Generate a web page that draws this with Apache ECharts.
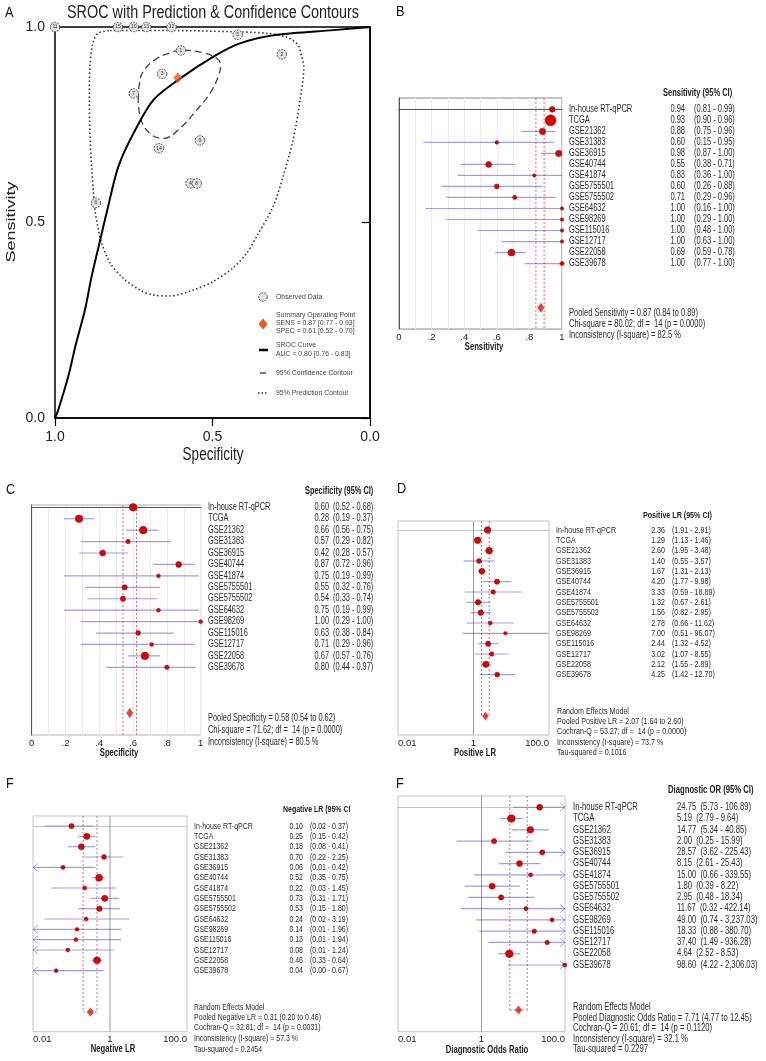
<!DOCTYPE html>
<html><head><meta charset="utf-8">
<script src="https://cdn.jsdelivr.net/npm/echarts@6/dist/echarts.min.js"></script>
<style>html,body{margin:0;padding:0;background:#fff}#c{width:766px;height:1061px}</style>
</head><body><div id="c"></div>
<script>
// ---------------- DATA ----------------
const studies = ['In-house RT-qPCR','TCGA','GSE21362','GSE31383','GSE36915','GSE40744','GSE41874','GSE5755501','GSE5755502','GSE64632','GSE98269','GSE115016','GSE12717','GSE22058','GSE39678'];

const sens   = [0.94,0.93,0.88,0.60,0.98,0.55,0.83,0.60,0.71,1.00,1.00,1.00,1.00,0.69,1.00];
const sensLo = [0.81,0.90,0.75,0.15,0.87,0.38,0.36,0.26,0.29,0.16,0.29,0.48,0.63,0.59,0.77];
const sensHi = [0.99,0.96,0.96,0.95,1.00,0.71,1.00,0.88,0.96,1.00,1.00,1.00,1.00,0.78,1.00];
const sensWt = [5.5,10.5,6,3.5,6,5.7,3.3,4.7,4,3.3,3.3,3.3,3.3,6.7,4];

const spec   = [0.60,0.28,0.66,0.57,0.42,0.87,0.75,0.55,0.54,0.75,1.00,0.63,0.71,0.67,0.80];
const specLo = [0.52,0.19,0.56,0.29,0.28,0.72,0.19,0.32,0.33,0.19,0.29,0.38,0.29,0.57,0.44];
const specHi = [0.68,0.37,0.75,0.82,0.57,0.96,0.99,0.76,0.74,0.99,1.00,0.84,0.96,0.76,0.97];
const specWt = [7.3,7.3,7.3,4.3,5.7,5.7,3.7,5,5,3.7,3.7,4.7,3.7,7.3,4.3];

const plr    = [2.36,1.29,2.60,1.40,1.67,4.20,3.33,1.32,1.56,2.78,7.00,2.44,3.02,2.12,4.25];
const plrLo  = [1.91,1.13,1.95,0.55,1.31,1.77,0.59,0.67,0.82,0.66,0.51,1.32,1.07,1.55,1.42];
const plrHi  = [2.91,1.46,3.48,3.57,2.13,9.98,18.89,2.61,2.95,11.62,96.07,4.52,8.55,2.89,12.70];
const plrWt  = [6.3,6.3,6.3,4.7,5.7,5,4.3,5.3,5.3,4,3.3,5,4.3,6,4.7];

const nlr    = [0.10,0.25,0.18,0.70,0.06,0.52,0.22,0.73,0.53,0.24,0.14,0.13,0.08,0.46,0.04];
const nlrLo  = [0.02,0.15,0.08,0.22,0.01,0.35,0.03,0.31,0.15,0.02,0.01,0.01,0.01,0.33,0.00];
const nlrHi  = [0.37,0.42,0.41,2.25,0.42,0.75,1.45,1.71,1.80,3.19,1.96,1.94,1.24,0.64,0.67];
const nlrWt  = [5,6,5.7,4.7,4,6.7,4,6,5.3,3.7,3.7,3.7,3.7,6.7,3.7];

const dor    = [24.75,5.19,14.77,2.00,28.57,8.15,15.00,1.80,2.95,11.67,49.00,18.33,37.40,4.64,98.60];
const dorLo  = [5.73,2.79,5.34,0.25,3.62,2.61,0.66,0.39,0.48,0.32,0.74,0.88,1.49,2.52,4.22];
const dorHi  = [106.89,9.64,40.85,15.99,225.43,25.43,339.55,8.22,18.34,422.14,3237.03,380.70,936.28,8.53,2306.03];
const dorWt  = [5.7,7.3,6.3,5,5,5.7,4,5.7,5,4,4,4.3,4.3,7.3,4];

// pooled [estimate, lower, upper]
const pooledSens = [0.87,0.84,0.89];
const pooledSpec = [0.58,0.54,0.62];
const pooledPlr  = [2.07,1.64,2.60];
const pooledNlr  = [0.31,0.20,0.46];
const pooledDor  = [7.71,4.77,12.45];
// heterogeneity [statistic, df, p, I2, tau2]
const hetSens = [80.02,14,'0.0000',82.5,null];
const hetSpec = [71.62,14,'0.0000',80.5,null];
const hetPlr  = [53.27,14,'0.0000',73.7,'0.1016'];
const hetNlr  = [32.81,14,'0.0031',57.3,'0.2454'];
const hetDor  = [20.61,14,'0.1120',32.1,'0.2297'];

// SROC panel
const summarySens = [0.87,0.77,0.93];
const summarySpec = [0.61,0.52,0.70];
const aucValues   = [0.80,0.76,0.83];
const srocSpec = [1.00,0.99,0.958,0.933,0.905,0.884,0.859,0.834,0.799,0.751,0.688,0.61,0.497,0.413,0.296,0.116,0.00];
const srocSens = [0.00,0.02,0.106,0.191,0.276,0.361,0.447,0.532,0.643,0.728,0.813,0.864,0.924,0.958,0.98,0.992,1.00];
const confSpec = [0.736,0.732,0.720,0.683,0.635,0.598,0.529,0.487,0.474,0.482,0.508,0.550,0.603,0.656,0.693,0.725,0.736];
const confSens = [0.813,0.856,0.886,0.916,0.934,0.941,0.934,0.920,0.903,0.873,0.830,0.788,0.741,0.715,0.724,0.758,0.813];
const predSpec = [0.825,0.645,0.435,0.328,0.264,0.229,0.217,0.210,0.222,0.244,0.276,0.308,0.360,0.391,0.435,0.498,0.562,0.635,0.689,0.730,0.784,0.825,0.852,0.864,0.873,0.884,0.889,0.891,0.889,0.880,0.864,0.825];
const predSens = [0.991,0.991,0.988,0.984,0.974,0.954,0.924,0.898,0.813,0.711,0.617,0.540,0.464,0.422,0.384,0.349,0.327,0.312,0.315,0.327,0.358,0.396,0.448,0.489,0.532,0.643,0.729,0.813,0.899,0.958,0.984,0.991];

const tickA    = ['0.0','0.5','1.0'];
const tickProp = ['0','.2','.4','.6','.8','1'];
const tickLog  = {'-2':'0.01','0':'1','2':'100.0'};

// ---------------- STYLE / LAYOUT ----------------
const FONT = '"Liberation Sans", Arial, sans-serif';
const RED = '#cc0a0a', CI = 'rgba(80,80,215,0.55)', REF = '#e06060';
const fmt = v => v.toLocaleString('en-US',{minimumFractionDigits:2,maximumFractionDigits:2});

const forest = [
 {gi:1, grid:{left:399,top:98,width:163,height:231}, log:false, yr:[-1.03,19.94],
  est:sens, lo:sensLo, hi:sensHi, wt:sensWt, pooled:pooledSens, full:true, nullLine:false,
  gridBorder:'#8a8a8a', xLine:'#555', yLine:'#555', yPos:'left', split:true,
  fs:10, sx:0.75, labelX:569, valX:685, ciX:694, header:'Sensitivity (95% CI)', headerX:663, headerY:93,
  stats:['Pooled Sensitivity = '+pooledSens[0].toFixed(2)+' ('+pooledSens[1].toFixed(2)+' to '+pooledSens[2].toFixed(2)+')',
         'Chi-square = '+hetSens[0]+'; df =  '+hetSens[1]+' (p = '+hetSens[2]+')',
         'Inconsistency (I-square) = '+hetSens[3]+' %'],
  statsX:569, statsY:[313,324,335], name:'Sensitivity', nameX:484, nameY:347, dia:[7,10]},
 {gi:2, grid:{left:31.7,top:505,width:169,height:230}, log:false, yr:[-0.2,19.92],
  est:spec, lo:specLo, hi:specHi, wt:specWt, pooled:pooledSpec, full:true, nullLine:false,
  gridBorder:'#b0b0b0', xLine:'#555', yLine:'#555', yPos:'right', split:true,
  fs:10, sx:0.74, labelX:208, valX:329, ciX:333, header:'Specificity (95% CI)', headerX:305, headerY:491,
  stats:['Pooled Specificity = '+pooledSpec[0].toFixed(2)+' ('+pooledSpec[1].toFixed(2)+' to '+pooledSpec[2].toFixed(2)+')',
         'Chi-square = '+hetSpec[0]+'; df =  '+hetSpec[1]+' (p = '+hetSpec[2]+')',
         'Inconsistency (I-square) = '+hetSpec[3]+' %'],
  statsX:208, statsY:[718,730,742], name:'Specificity', nameX:119, nameY:753, dia:[7,10]},
 {gi:3, grid:{left:398,top:521,width:151,height:214}, log:true, yr:[-0.87,19.84],
  est:plr, lo:plrLo, hi:plrHi, wt:plrWt, pooled:pooledPlr, full:false, nullLine:true,
  gridBorder:'#c4c4c4', xLine:'#c4c4c4', yLine:null, yPos:'left', split:false,
  fs:9.5, sx:0.75, labelX:556, valX:665, ciX:672, header:'Positive LR (95% CI)', headerX:643, headerY:515,
  stats:['Random Effects Model',
         'Pooled Positive LR = '+fmt(pooledPlr[0])+' ('+fmt(pooledPlr[1])+' to '+fmt(pooledPlr[2])+')',
         'Cochran-Q = '+hetPlr[0]+'; df =  '+hetPlr[1]+' (p = '+hetPlr[2]+')',
         'Inconsistency (I-square) = '+hetPlr[3]+' %', 'Tau-squared = '+hetPlr[4]],
  statsX:557, statsY:[711,721,731,742,752], name:'Positive LR', nameX:475, nameY:753, dia:[6,9]},
 {gi:4, grid:{left:33,top:816,width:154,height:215.7}, log:true, yr:[-0.97,19.91],
  est:nlr, lo:nlrLo, hi:nlrHi, wt:nlrWt, pooled:pooledNlr, full:false, nullLine:true,
  gridBorder:'#c4c4c4', xLine:'#c4c4c4', yLine:null, yPos:'left', split:false,
  fs:9.3, sx:0.75, labelX:194, valX:303, ciX:310, header:'Negative LR (95% CI', headerX:283, headerY:809,
  stats:['Random Effects Model',
         'Pooled Negative LR = '+fmt(pooledNlr[0])+' ('+fmt(pooledNlr[1])+' to '+fmt(pooledNlr[2])+')',
         'Cochran-Q = '+hetNlr[0]+'; df =  '+hetNlr[1]+' (p = '+hetNlr[2]+')',
         'Inconsistency (I-square) = '+hetNlr[3]+' %', 'Tau-squared = '+hetNlr[4]],
  statsX:194, statsY:[1007,1017,1027,1038,1049], name:'Negative LR', nameX:113, nameY:1049, dia:[7,9]},
 {gi:5, grid:{left:398,top:796,width:167,height:235.7}, log:true, yr:[-1.0,19.92],
  est:dor, lo:dorLo, hi:dorHi, wt:dorWt, pooled:pooledDor, full:false, nullLine:true,
  gridBorder:'#c4c4c4', xLine:'#c4c4c4', yLine:null, yPos:'left', split:false, combined:true,
  fs:10, sx:0.77, labelX:573, valX:677, ciX:null, header:'Diagnostic OR (95% CI)', headerX:668, headerY:790,
  stats:['Random Effects Model',
         'Pooled Diagnostic Odds Ratio = '+fmt(pooledDor[0])+' ('+fmt(pooledDor[1])+' to '+fmt(pooledDor[2])+')',
         'Cochran-Q = '+hetDor[0]+'; df =  '+hetDor[1]+' (p = '+hetDor[2]+')',
         'Inconsistency (I-square) = '+hetDor[3]+' %', 'Tau-squared = '+hetDor[4]],
  statsX:573, statsY:[1007,1018,1028,1039,1049], name:'Diagnostic Odds Ratio', nameX:487, nameY:1050, dia:[7,9]}
];

// ---------------- BUILD OPTION ----------------
const grids = [{left:55, top:27, width:315, height:391, show:true, borderColor:'#000', borderWidth:1.5, backgroundColor:'transparent'}];
const xAxes = [{gridIndex:0, type:'value', min:0, max:1, interval:0.5, inverse:true,
  axisLine:{show:true, lineStyle:{color:'#000', width:1.5}},
  axisTick:{show:true, length:8, lineStyle:{color:'#000', width:1.2}},
  axisLabel:{fontSize:14, color:'#222', fontFamily:FONT, margin:12, formatter:v=>tickA[Math.round(v/0.5)]},
  splitLine:{show:false}}];
const yAxes = [{gridIndex:0, type:'value', min:0, max:1, interval:0.5,
  axisLine:{show:true, lineStyle:{color:'#000', width:1.5}},
  axisTick:{show:true, length:8, lineStyle:{color:'#000', width:1.2}},
  axisLabel:{fontSize:14, color:'#222', fontFamily:FONT, margin:10, formatter:v=>tickA[Math.round(v/0.5)]},
  splitLine:{show:false}}];

const series = [];
// SROC panel series
series.push({type:'line', xAxisIndex:0, yAxisIndex:0, data:predSpec.map((v,i)=>[v,predSens[i]]), smooth:0.3, symbol:'none',
  lineStyle:{color:'#333', width:1.6, type:[1.5,2.5]}, z:2, silent:true});
series.push({type:'line', xAxisIndex:0, yAxisIndex:0, data:confSpec.map((v,i)=>[v,confSens[i]]), smooth:0.4, symbol:'none',
  lineStyle:{color:'#444', width:1.3, type:[7,4]}, z:2, silent:true});
series.push({type:'line', xAxisIndex:0, yAxisIndex:0, data:srocSpec.map((v,i)=>[v,srocSens[i]]), smooth:0.3, symbol:'none',
  lineStyle:{color:'#000', width:2}, z:3, silent:true});
series.push({type:'scatter', xAxisIndex:0, yAxisIndex:0, data:spec.map((v,i)=>[v,sens[i],i+1]), symbolSize:9.5,
  itemStyle:{color:'#e2e2e2', borderColor:'#444', borderWidth:0.9, borderType:[2,1], opacity:1},
  label:{show:true, position:'inside', formatter:p=>String(p.value[2]), fontSize:5, color:'#333', fontFamily:FONT}, z:4, silent:true});
series.push({type:'scatter', xAxisIndex:0, yAxisIndex:0, data:[[summarySpec[0], summarySens[0]]], symbol:'diamond', symbolSize:[9,11],
  itemStyle:{color:'#ee5522'}, z:5, silent:true});

function ciRender(xMin, xMax){
  return function(params, api){
    const lo = api.value(0), hi = api.value(1), row = api.value(2);
    const p1 = api.coord([Math.max(lo, xMin), row]);
    const p2 = api.coord([Math.min(hi, xMax), row]);
    const ch = [{type:'line', shape:{x1:p1[0], y1:p1[1], x2:p2[0], y2:p2[1]}, style:{stroke:CI, lineWidth:1.2}}];
    if (lo <= xMin) ch.push({type:'polyline', shape:{points:[[p1[0]+5,p1[1]-4],[p1[0],p1[1]],[p1[0]+5,p1[1]+4]]}, style:{stroke:'rgba(110,110,220,0.6)', fill:null, lineWidth:1}});
    if (hi > xMax) ch.push({type:'polyline', shape:{points:[[p2[0]-5,p2[1]-4],[p2[0],p2[1]],[p2[0]-5,p2[1]+4]]}, style:{stroke:'rgba(110,110,220,0.6)', fill:null, lineWidth:1}});
    return {type:'group', children:ch};
  };
}
function refRender(full, nullLine){
  return function(params, api){
    const cs = params.coordSys;
    const lo = api.value(0), hi = api.value(1), row = api.value(2);
    const a = api.coord([lo, row]), b = api.coord([hi, row]);
    const yBot = full ? cs.y + cs.height : a[1];
    const ch = [];
    if (nullLine){
      const c = api.coord([1, row]);
      ch.push({type:'line', shape:{x1:c[0], y1:cs.y, x2:c[0], y2:cs.y+cs.height}, style:{stroke:'#9a9a9a', lineWidth:1}});
    }
    ch.push({type:'line', shape:{x1:a[0], y1:cs.y, x2:a[0], y2:yBot}, style:{stroke:REF, lineWidth:0.9, lineDash:[2,2]}});
    ch.push({type:'line', shape:{x1:b[0], y1:cs.y, x2:b[0], y2:yBot}, style:{stroke:REF, lineWidth:0.9, lineDash:[2,2]}});
    if (!full) ch.push({type:'line', shape:{x1:a[0], y1:a[1], x2:b[0], y2:b[1]}, style:{stroke:REF, lineWidth:0.9, lineDash:[2,2]}});
    return {type:'group', children:ch};
  };
}

forest.forEach(p => {
  const g = p.gi;
  grids.push(Object.assign({show:true, borderColor:p.gridBorder, borderWidth:1, backgroundColor:'transparent'}, p.grid));
  const xMin = p.log ? 0.01 : 0, xMax = p.log ? 100 : 1;
  if (p.log){
    xAxes.push({gridIndex:g, type:'log', logBase:10, min:0.01, max:100,
      axisLine:{show:true, lineStyle:{color:p.xLine, width:1}}, axisTick:{show:false}, splitLine:{show:false},
      axisLabel:{fontSize:9.5, color:'#222', fontFamily:FONT, margin:3, alignMinLabel:'left', alignMaxLabel:'right',
        formatter:v=>{const e=Math.round(Math.log10(v)); return tickLog[String(e)]||'';}}});
  } else {
    xAxes.push({gridIndex:g, type:'value', min:0, max:1, interval:0.1,
      axisLine:{show:true, lineStyle:{color:p.xLine, width:1}}, axisTick:{show:false},
      splitLine:{show:p.split, lineStyle:{color:'#f1e8e8', width:1}},
      axisLabel:{fontSize:9.5, color:'#222', fontFamily:FONT, margin:3,
        formatter:v=>{const k=Math.round(v*10); return k%2===0 ? tickProp[k/2] : '';}}});
  }
  yAxes.push({gridIndex:g, type:'value', min:p.yr[0], max:p.yr[1], inverse:true, position:p.yPos,
    axisLine:{show:!!p.yLine, lineStyle:{color:p.yLine||'#555', width:1}}, axisTick:{show:false},
    axisLabel:{show:false}, splitLine:{show:false}});
  const floor = p.log ? 0.001 : 0;
  series.push({type:'custom', xAxisIndex:g, yAxisIndex:g, data:[[p.pooled[1], p.pooled[2], 18]], encode:{x:[0,1], y:2},
    renderItem:refRender(p.full, p.nullLine), clip:false, z:2, silent:true});
  series.push({type:'custom', xAxisIndex:g, yAxisIndex:g, data:p.est.map((v,i)=>[Math.max(p.lo[i],floor), p.hi[i], i]),
    encode:{x:[0,1], y:2}, renderItem:ciRender(xMin, xMax), clip:false, z:3, silent:true});
  series.push({type:'scatter', xAxisIndex:g, yAxisIndex:g, data:p.est.map((v,i)=>[v, i, p.wt[i]]),
    symbolSize:d=>d[2]*1.05, itemStyle:{color:RED, borderColor:'#900', borderWidth:0.5, opacity:1}, z:4, silent:true, clip:false});
  series.push({type:'scatter', xAxisIndex:g, yAxisIndex:g, data:[[p.pooled[0], 18]], symbol:'diamond', symbolSize:p.dia,
    itemStyle:{color:'#dd1111'}, z:5, silent:true});
});

const chart = echarts.init(document.getElementById('c'), null, {renderer:'canvas', width:766, height:1061});
chart.setOption({animation:false, backgroundColor:'#fff', grid:grids, xAxis:xAxes, yAxis:yAxes, series:series});

// ---------------- TEXT ----------------
function T(x, y, text, o){
  o = o || {};
  return {type:'text', x:x, y:y, scaleX:(o.sx==null?0.75:o.sx), scaleY:(o.sy==null?1:o.sy), rotation:o.rot||0, silent:true, z:10,
    style:{text:text, fontSize:o.fs||10, fontFamily:FONT, fontWeight:o.fw||'normal', fill:o.c||'#222',
      align:o.al||'left', verticalAlign:'middle'}};
}
const gfx = [];
// panel letters
gfx.push(T(5,13,'A',{fs:15,sx:0.85,c:'#111'}));
gfx.push(T(396,12,'B',{fs:15,sx:0.85,c:'#111'}));
gfx.push(T(6,490,'C',{fs:15,sx:0.85,c:'#111'}));
gfx.push(T(397,489,'D',{fs:15,sx:0.85,c:'#111'}));
gfx.push(T(6,784,'F',{fs:15,sx:0.85,c:'#111'}));
gfx.push(T(396,784,'F',{fs:15,sx:0.85,c:'#111'}));
// Panel A texts
gfx.push(T(213,13,'SROC with Prediction & Confidence Contours',{fs:18,sx:0.8,al:'center',c:'#222'}));
gfx.push(T(213,455,'Specificity',{fs:18,sx:0.75,al:'center',c:'#222'}));
gfx.push(T(11,222,'Sensitivity',{fs:18,sx:1,sy:0.75,rot:Math.PI/2,al:'center',c:'#222'}));
// Legend A
const LG = {fs:8, sx:0.86, c:'#444'};
gfx.push({type:'circle', shape:{cx:263, cy:297, r:4.3}, style:{fill:'#e2e2e2', stroke:'#444', lineWidth:0.9, lineDash:[2,1]}, silent:true, z:10});
gfx.push(T(276,297,'Observed Data',LG));
gfx.push({type:'polygon', shape:{points:[[263,318.5],[267.5,324],[263,329.5],[258.5,324]]}, style:{fill:'#ee5522'}, silent:true, z:10});
gfx.push(T(276,315,'Summary Operating Point',LG));
gfx.push(T(276,323,'SENS = '+summarySens[0].toFixed(2)+' ['+summarySens[1].toFixed(2)+' - '+summarySens[2].toFixed(2)+']',LG));
gfx.push(T(276,331,'SPEC = '+summarySpec[0].toFixed(2)+' ['+summarySpec[1].toFixed(2)+' - '+summarySpec[2].toFixed(2)+']',LG));
gfx.push({type:'line', shape:{x1:259, y1:350, x2:268, y2:350}, style:{stroke:'#000', lineWidth:2.5}, silent:true, z:10});
gfx.push(T(276,345,'SROC Curve',LG));
gfx.push(T(276,354,'AUC = '+aucValues[0].toFixed(2)+' ['+aucValues[1].toFixed(2)+' - '+aucValues[2].toFixed(2)+']',LG));
gfx.push({type:'line', shape:{x1:260, y1:373, x2:266, y2:373}, style:{stroke:'#333', lineWidth:1.3}, silent:true, z:10});
gfx.push(T(276,373,'95% Confidence Contour',LG));
gfx.push({type:'line', shape:{x1:258, y1:393, x2:268, y2:393}, style:{stroke:'#333', lineWidth:1.5, lineDash:[1.5,2]}, silent:true, z:10});
gfx.push(T(276,393,'95% Prediction Contour',LG));

// Forest texts
forest.forEach(p => {
  const o = {fs:p.fs, sx:p.sx, c:'#2a2a2a'};
  gfx.push(T(p.headerX, p.headerY, p.header, {fs:p.fs, sx:p.sx, fw:'bold', c:'#222'}));
  studies.forEach((s,i) => {
    const y = chart.convertToPixel({yAxisIndex:p.gi}, i);
    gfx.push(T(p.labelX, y, s, o));
    if (p.combined){
      gfx.push(T(p.valX, y, fmt(p.est[i])+'  ('+fmt(p.lo[i])+' - '+fmt(p.hi[i])+')', o));
    } else {
      gfx.push(T(p.valX, y, fmt(p.est[i]), Object.assign({al:'right'}, o)));
      gfx.push(T(p.ciX, y, '('+fmt(p.lo[i])+' - '+fmt(p.hi[i])+')', o));
    }
  });
  p.stats.forEach((s,k) => gfx.push(T(p.statsX, p.statsY[k], s, o)));
  gfx.push(T(p.nameX, p.nameY, p.name, {fs:10, sx:0.77, fw:'bold', al:'center', c:'#222'}));
});
chart.setOption({graphic:{elements:gfx}});
</script></body></html>
